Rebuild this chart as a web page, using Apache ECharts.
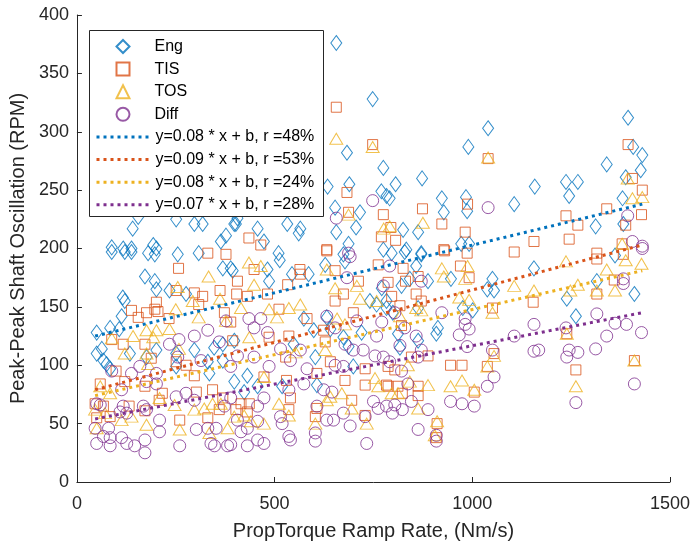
<!DOCTYPE html>
<html><head><meta charset="utf-8">
<script src="https://cdn.jsdelivr.net/npm/echarts@6/dist/echarts.min.js"></script>
<style>html,body{margin:0;padding:0;background:#fff}#c{width:693px;height:546px}</style>
</head><body><div id="c"></div>
<script>
var xTicks = [0, 500, 1000, 1500];
var yTicks = [0, 50, 100, 150, 200, 250, 300, 350, 400];
var seriesNames = ['Eng', 'TIS', 'TOS', 'Diff'];
var fitNames = ['y=0.08 * x + b, r =48%', 'y=0.09 * x + b, r =53%', 'y=0.08 * x + b, r =24%', 'y=0.07 * x + b, r =28%'];

var eng = [[155,227],[141,217],[251,225],[297,221],[318,221],[398,221],[377,211],[364,206],[88,201],[117,200],[138,200],[193,203],[201,200],
[656,376],[748,328],[683,282],[775,269],[634,253],[689,255],[770,249],[783,245],[653,235],[716,231],[706,218],[656,214],[687,204],[532,221],[565,217],[561,213],[457,217],[402,221],[406,226],[473,206],[510,196],
[1040,303],[990,287],[873,260],[806,255],[791,243],[923,243],[928,231],[984,244],[987,232],[1106,238],[1158,253],[825,216],[863,214],[972,204],[992,204],[833,199],[871,196],
[1394,312],[1407,287],[1430,280],[1426,267],[1340,272],[1388,261],[1237,257],[1267,257],[1245,245],[1380,243],[1382,221],[1312,219],
[88,197],[121,197],[138,197],[180,196],[197,195],[255,195],[308,196],[369,183],[394,181],[172,176],[197,172],[201,165],[234,164],[276,161],[116,158],[121,155],[113,142],[50,128],[84,132],[107,131],[50,110],[63,114],[67,104],[75,101],[84,97],[134,110],[176,107],[201,113],[251,110],[297,113],[347,115],[369,118],[331,103],[369,104],[251,99],[335,93],
[513,190],[628,186],[674,195],[678,189],[775,199],[389,183],[482,182],[544,178],[586,178],[486,172],[741,155],[758,152],[771,166],[574,140],[599,130],[632,141],[641,131],[674,124],[687,116],[720,128],[783,155],[548,118],[603,107],[431,91],[457,82],[423,77],[398,86],[519,82],[607,83],[699,99],[398,121],
[829,197],[871,195],[796,196],[858,185],[888,172],[842,174],[946,174],[821,168],[1051,174],[1038,165],[1055,164],[1156,183],[976,149],[1001,147],[863,149],[783,149],[799,145],[913,132],[909,127],[812,127],[863,121],[817,115],
[1361,194],[1315,172],[1410,161],[1239,157],[1262,142]];

var tis = [[656,321],[748,289],[683,248],[775,229],[770,210],[435,209],[465,203],[632,199],[687,231],
[1040,277],[874,234],[988,238],[923,221],[794,218],[806,207],[982,214],[1156,206],[928,199],[1106,197],
[1394,289],[1405,260],[1430,250],[1428,229],[1340,234],[1237,228],[1267,220],[1245,208],[1388,220],[1379,204],[1315,196],
[331,196],[377,195],[257,183],[251,164],[297,162],[318,159],[362,164],[201,154],[197,148],[138,147],[155,141],[176,145],[205,146],[233,140],[308,152],[373,145],[88,122],[117,118],[172,118],[251,103],[276,100],[297,91],[188,106],[99,95],[59,84],[121,86],[216,76],[172,82],[302,77],[343,79],[369,72],[46,67],[67,65],[132,65],[172,61],[208,70],[50,55],[84,56],[260,53],[331,55],[360,62],[394,121],
[632,198],[564,182],[565,178],[448,182],[406,172],[404,161],[431,159],[482,161],[533,169],[653,181],[674,161],[653,155],[712,172],[762,186],[511,148],[582,140],[699,145],[624,130],[536,125],[486,124],[389,137],[628,120],[641,103],[528,107],[473,90],[530,87],[678,87],[729,97],[729,83],[695,70],[607,93],[607,63],[603,56],[783,83],[540,72],[415,67],[436,67],[402,62],[431,60],[729,57],[536,62],
[930,198],[987,196],[825,183],[970,185],[992,175],[831,172],[863,176],[787,171],[858,161],[871,155],[796,159],[817,151],[1051,149],[1154,154],[821,134],[846,107],[888,108],[804,96],[787,99],[945,100],[974,100],[1038,99],[1055,110],[787,82],[812,82],[863,82],[863,74],[823,76],[1005,77],[911,50],[909,38],
[1315,191],[1382,195],[1359,173],[1315,161],[1239,127],[1262,96],[1410,104]];

var tos = [[656,294],[748,287],[687,229],[776,217],
[1040,278],[875,222],[791,219],
[1393,260],[1405,243],[1430,244],[1379,204],
[333,176],[255,167],[250,148],[293,155],[362,157],[308,141],[377,138],[176,130],[201,130],[142,125],[88,123],[121,110],[234,131],[193,124],[258,114],[176,110],[180,101],[59,82],[84,76],[209,72],[247,66],[46,62],[71,59],[113,53],[138,56],[176,49],[50,46],[260,45],[297,62],[322,63],[343,67],[335,42],[381,46],[364,67],
[435,188],[465,185],[448,169],[632,182],[653,166],[708,168],[716,157],[565,152],[536,149],[486,148],[506,141],[415,149],[658,140],[678,135],[758,155],[436,124],[628,113],[553,111],[473,90],[754,89],[762,82],[641,73],[670,76],[695,63],[632,70],[536,57],[511,67],[603,50],[733,50],[398,56],[473,50],[423,57],[440,52],
[923,183],[928,176],[988,185],[982,174],[1106,168],[1156,164],[967,158],[992,156],[1051,145],[858,149],[871,147],[817,142],[837,100],[1055,108],[1038,99],[842,86],[888,83],[945,82],[974,87],[1005,79],[796,76],[812,76],[863,63],[911,52],[905,40],
[1237,189],[1340,182],[1388,190],[1428,187],[1267,169],[1248,164],[1315,164],[1361,164],[1239,127],[1410,104],[1262,82]];

var diff = [[748,241],[656,226],[687,196],[1040,235],[1393,228],[1405,206],[1430,202],
[377,138],[331,130],[297,125],[234,118],[258,122],[360,120],[255,107],[314,104],[389,99],[88,95],[159,99],[201,93],[138,93],[176,86],[201,84],[113,79],[50,67],[59,66],[117,65],[126,59],[168,65],[176,62],[251,73],[276,76],[297,70],[109,60],[209,53],[209,43],[46,46],[80,46],[67,39],[84,38],[113,38],[50,33],[84,31],[126,33],[146,31],[172,36],[172,25],[260,31],[302,45],[331,46],[339,33],[348,31],[381,31],[352,46],[373,65],
[691,193],[683,175],[775,168],[771,137],[435,140],[465,140],[448,132],[482,128],[632,142],[653,132],[708,138],[758,125],[678,118],[699,113],[724,113],[754,108],[775,107],[565,113],[515,114],[540,104],[486,99],[582,97],[406,108],[448,107],[653,100],[674,99],[574,84],[624,79],[645,77],[536,79],[473,72],[457,65],[389,72],[750,69],[762,63],[783,65],[607,65],[632,53],[649,53],[674,59],[691,48],[515,56],[519,50],[457,52],[406,53],[415,43],[431,46],[431,31],[473,33],[457,36],[536,39],[540,36],[603,42],[603,35],[733,33],[729,56],[389,32],
[791,185],[871,172],[923,145],[982,140],[982,135],[992,131],[967,126],[804,145],[829,132],[858,125],[817,117],[871,113],[863,107],[987,116],[1051,113],[1106,125],[1156,135],[1156,112],[791,103],[821,95],[1055,90],[1038,82],[837,84],[846,69],[804,66],[823,62],[798,59],[888,62],[945,69],[974,67],[1005,65],[863,45],[909,40],[909,35],
[1430,200],[1382,174],[1382,170],[1315,144],[1361,136],[1390,135],[1428,128],[1237,132],[1340,125],[1245,113],[1267,111],[1239,107],[1312,114],[1168,113],[1410,84],[1262,68]];

var fitEng = [[46,125],[1430,238]];
var fitTis = [[46,79],[1430,203]];
var fitTos = [[46,74],[1430,181]];
var fitDiff = [[46,54],[1430,145]];

var colors = ['#0072BD', '#D95319', '#EDB120', '#7E2F8E'];
var symbols = ['diamond', 'rect', 'triangle', 'circle'];
var symSizes = [[11, 15], [10, 10], [13, 11], [12, 12]];
var pts = [eng, tis, tos, diff];
var fits = [fitEng, fitTis, fitTos, fitDiff];
var FONT = 'Liberation Sans, Arial, Helvetica, sans-serif';

var series = [];
for (var i = 0; i < 4; i++) {
  series.push({
    name: seriesNames[i], type: 'scatter', data: pts[i],
    symbol: symbols[i], symbolSize: symSizes[i],
    itemStyle: { color: 'rgba(255,255,255,0)', borderColor: colors[i], borderWidth: 1 },
    emphasis: { disabled: true }, z: 2
  });
}
for (var j = 0; j < 4; j++) {
  series.push({
    name: fitNames[j], type: 'line', data: fits[j], symbol: 'none', showSymbol: false,
    lineStyle: { color: colors[j], width: 3, type: [3, 4] },
    itemStyle: { color: colors[j] },
    emphasis: { disabled: true }, z: 3
  });
}

var legendText = { fontSize: 16, color: '#000', fontFamily: FONT };
var chart = echarts.init(document.getElementById('c'), null, { renderer: 'canvas' });
chart.setOption({
  animation: false,
  backgroundColor: '#fff',
  textStyle: { fontFamily: FONT },
  grid: { left: 75, right: 21, top: 15, bottom: 60, containLabel: false },
  graphic: [{
    type: 'rect', left: 89, top: 30, z: 8,
    shape: { width: 234, height: 186 },
    style: { fill: '#fff', stroke: '#262626', lineWidth: 1 }
  }],
  legend: [{
    orient: 'vertical', left: 115.5, top: 38.5,
    data: seriesNames,
    itemWidth: 13, itemHeight: 13, itemGap: 6.6, padding: 0,
    textStyle: Object.assign({ padding: [0, 0, 0, 20] }, legendText),
    selectedMode: false, z: 10
  }, {
    orient: 'vertical', left: 95, top: 129,
    data: fitNames.map(function (n) { return { name: n, itemStyle: { opacity: 0 } }; }),
    itemWidth: 54, itemHeight: 14, itemGap: 6.6, padding: 0,
    lineStyle: { width: 3 },
    textStyle: legendText,
    selectedMode: false, z: 10
  }],
  xAxis: {
    type: 'value', min: xTicks[0], max: xTicks[xTicks.length - 1], interval: 500,
    name: 'PropTorque Ramp Rate, (Nm/s)', nameLocation: 'middle', nameGap: 39,
    nameTextStyle: { fontSize: 20, color: '#262626', fontFamily: FONT },
    axisLine: { show: true, onZero: false, lineStyle: { color: '#262626', width: 1 } },
    axisTick: { show: true, inside: true, length: 5, lineStyle: { color: '#262626' } },
    axisLabel: { fontSize: 18, color: '#262626', margin: 13, fontFamily: FONT, formatter: function (v) { return String(v); } },
    splitLine: { show: false }
  },
  yAxis: {
    type: 'value', min: yTicks[0], max: yTicks[yTicks.length - 1], interval: 50,
    name: 'Peak-Peak Shaft Oscillation (RPM)', nameLocation: 'middle', nameGap: 45,
    nameTextStyle: { fontSize: 20, color: '#262626', fontFamily: FONT },
    axisLine: { show: true, onZero: false, lineStyle: { color: '#262626', width: 1 } },
    axisTick: { show: true, inside: true, length: 5, lineStyle: { color: '#262626' } },
    axisLabel: { fontSize: 18, color: '#262626', margin: 8, fontFamily: FONT, formatter: function (v) { return String(v); } },
    splitLine: { show: false }
  },
  series: series
});
</script></body></html>
